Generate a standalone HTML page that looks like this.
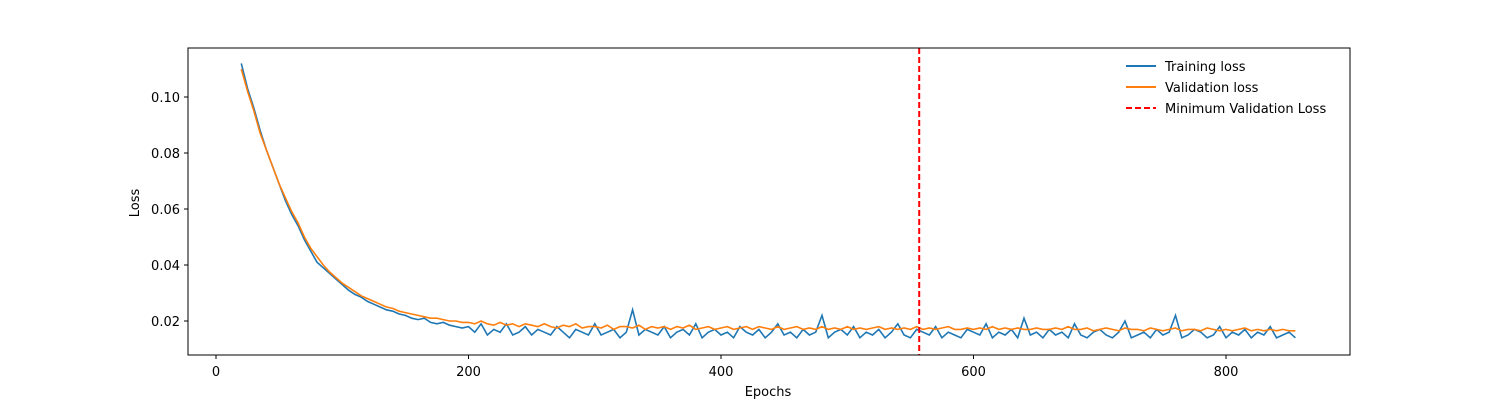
<!DOCTYPE html>
<html><head><meta charset="utf-8"><style>
body{margin:0;background:#fff;font-family:"DejaVu Sans","Liberation Sans",sans-serif;}
svg text{font-family:"DejaVu Sans","Liberation Sans",sans-serif;font-size:13px;fill:#000;}
</style></head><body>
<svg id="chart" width="1500" height="400" xmlns="http://www.w3.org/2000/svg">
<rect width="1500" height="400" fill="#fff"/>
<g id="plot"></g>
<rect x="188" y="48" width="1162" height="307" fill="none" stroke="#000" stroke-width="1"/>
<g id="xticks"></g><g id="yticks"></g>
<text x="768" y="396" text-anchor="middle">Epochs</text>
<text transform="translate(139,203) rotate(-90)" text-anchor="middle">Loss</text>
<g>
<g><line x1="1126" y1="66" x2="1156" y2="66" stroke="#1f77b4" stroke-width="2"/><text x="1165" y="71">Training loss</text></g>
<g><line x1="1126" y1="87" x2="1156" y2="87" stroke="#ff7f0e" stroke-width="2"/><text x="1165" y="92">Validation loss</text></g>
<g><line x1="1126" y1="108" x2="1156" y2="108" stroke="red" stroke-width="2" stroke-dasharray="6,3"/><text x="1165" y="113">Minimum Validation Loss</text></g>
</g>
</svg>
<script>
const epochStart = 20;
const epochStep = 5;
const trainLoss = [112,103,96,88,81,75,69,63,58,54,49,45,41,39,37,35,33,31,29.5,28.5,27,26,25,24,23.5,22.5,22,21,20.5,21,19.5,19,19.5,18.5,18,17.5,
18,16,19,15,17,16,19,15,16,18,15,17,16,15,18,16,14,17,16,15,19,15,16,17,14,16,24,15,17,16,15,18,14,16,17,15,19,14,16,17,15,16,14,18,16,15,17,14,16,19,15,16,14,17,15,16,22,14,16,17,15,18,14,16,15,17,14,16,19,15,14,17,16,15,18,14,16,15,14,17,16,15,19,14,16,15,17,14,21,15,16,14,17,15,16,14,19,15,14,16,17,15,14,16,20,14,15,16,14,17,15,16,22,14,15,17,16,14,15,18,14,16,15,17,14,16,15,18,14,15,16,14];
const valLoss = [110,102,95,87,81,75,69,64,59,55,50,46,43,40,37.5,35.5,33.5,32,30.5,29,28,27,26,25,24.5,23.5,23,22.5,22,21.5,21,21,20.5,20,20,19.5,
19.5,19,20,19,18.5,19.5,18.5,19,18,19,18.5,18,19,18,17.5,18.5,18,19,17.5,18,18,17.5,18.5,17,18,18,17.5,18.5,17,18,17.5,18,17,18,17.5,18.5,17,17.5,18,17,17.5,18,17,17.5,18,17,18,17.5,17,18,17,17.5,18,17,17.5,17,18,17,17.5,17,18,17,17.5,17,17.5,18,17,17.5,17,17.5,17,18,17,17.5,17,17.5,18,17,17,17.5,17,17.5,17,18,17,17.5,17,17.5,17,17,17.5,17,17,17.5,17,18,17,17,17.5,16.5,17,17.5,17,16.5,17.5,17,17,16.5,17.5,17,16.5,17,17.5,16.5,17,17,16.5,17.5,17,16.5,17,16.5,17,17.5,16.5,17,16.5,17,16.5,17,16.5,16.5];
const minValEpoch = 557;
const xTickValues = [0,200,400,600,800];
const yTickValues = [0.02,0.04,0.06,0.08,0.10];
const yTickLabels = ["0.02","0.04","0.06","0.08","0.10"];

const NS="http://www.w3.org/2000/svg";
function xs(e){return 216 + (e/200)*252.5;}
function ys(v){return 321 - (v-0.02)*2800;}
const plot=document.getElementById('plot');
function mkLine(arr,color,name){
  const pts=arr.map((v,i)=>xs(epochStart+i*epochStep).toFixed(1)+','+ys(v/1000).toFixed(1)).join(' ');
  const p=document.createElementNS(NS,'polyline');
  p.setAttribute('points',pts);p.setAttribute('fill','none');p.setAttribute('stroke',color);p.setAttribute('stroke-width','1.6');
  
  
  plot.appendChild(p);
}
mkLine(trainLoss,'#1f77b4','training-loss-line');
mkLine(valLoss,'#ff7f0e','validation-loss-line');
const ml=document.createElementNS(NS,'line');
ml.setAttribute('x1',xs(minValEpoch));ml.setAttribute('x2',xs(minValEpoch));ml.setAttribute('y1',48);ml.setAttribute('y2',355);
ml.setAttribute('stroke','red');ml.setAttribute('stroke-width','2');ml.setAttribute('stroke-dasharray','6,3');


plot.appendChild(ml);
const xt=document.getElementById('xticks');
xTickValues.forEach(v=>{
  const x=xs(v);
  const l=document.createElementNS(NS,'line');
  l.setAttribute('x1',x);l.setAttribute('x2',x);l.setAttribute('y1',355);l.setAttribute('y2',359);l.setAttribute('stroke','#000');
  
  
  xt.appendChild(l);
  const t=document.createElementNS(NS,'text');
  t.setAttribute('x',x);t.setAttribute('y',376);t.setAttribute('text-anchor','middle');t.textContent=v;
  
  
  xt.appendChild(t);
});
const yt=document.getElementById('yticks');
yTickValues.forEach((v,i)=>{
  const y=ys(v);
  const l=document.createElementNS(NS,'line');
  l.setAttribute('x1',184);l.setAttribute('x2',188);l.setAttribute('y1',y);l.setAttribute('y2',y);l.setAttribute('stroke','#000');
  
  
  yt.appendChild(l);
  const t=document.createElementNS(NS,'text');
  t.setAttribute('x',180);t.setAttribute('y',y+5);t.setAttribute('text-anchor','end');t.textContent=yTickLabels[i];
  
  
  yt.appendChild(t);
});
</script>
</body></html>
